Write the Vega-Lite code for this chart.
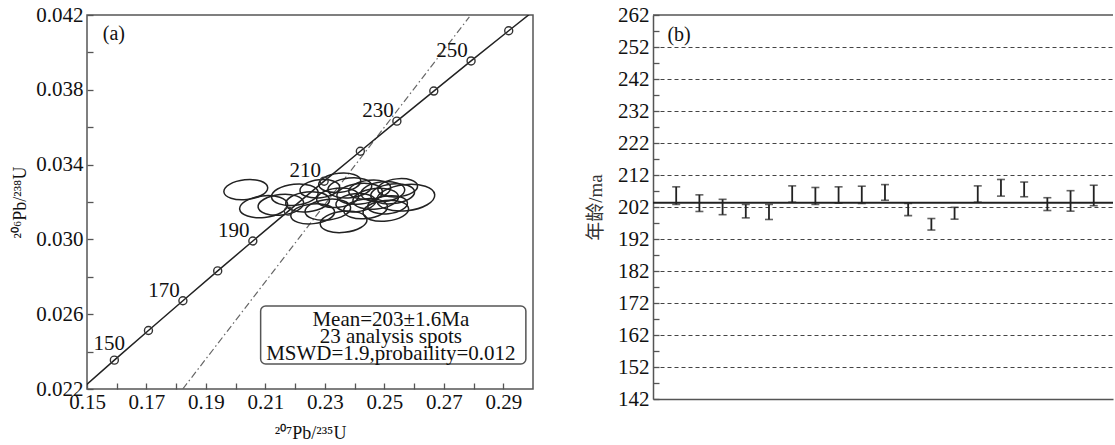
{
  "$schema": "https://vega.github.io/schema/vega-lite/v6.json",
  "padding": {"left": 11, "top": 3, "right": 0, "bottom": 0},
  "background": "white",
  "spacing": 52,
  "datasets": {
    "concordia": [
      {"t": 140, "x": 0.147837, "y": 0.021955},
      {"t": 150, "x": 0.159197, "y": 0.023542},
      {"t": 160, "x": 0.170670, "y": 0.025131},
      {"t": 170, "x": 0.182256, "y": 0.026722},
      {"t": 180, "x": 0.193957, "y": 0.028316},
      {"t": 190, "x": 0.205774, "y": 0.029912},
      {"t": 200, "x": 0.217707, "y": 0.031511},
      {"t": 210, "x": 0.229759, "y": 0.033113},
      {"t": 220, "x": 0.241930, "y": 0.034716},
      {"t": 230, "x": 0.254222, "y": 0.036323},
      {"t": 240, "x": 0.266635, "y": 0.037932},
      {"t": 250, "x": 0.279171, "y": 0.039543},
      {"t": 260, "x": 0.291832, "y": 0.041157},
      {"t": 270, "x": 0.304617, "y": 0.042773}
    ],
    "discordia": [
      {"x": 0.1822, "y": 0.022},
      {"x": 0.2786, "y": 0.0419}
    ],
    "ellipses": [
      {"id": 1, "x": 0.2034, "y": 0.03266, "ex": 0.0074},
      {"id": 2, "x": 0.2094, "y": 0.03175, "ex": 0.0081},
      {"id": 3, "x": 0.2152, "y": 0.03185, "ex": 0.0077},
      {"id": 4, "x": 0.2199, "y": 0.03239, "ex": 0.0079},
      {"id": 5, "x": 0.2242, "y": 0.03201, "ex": 0.0074},
      {"id": 6, "x": 0.2283, "y": 0.03271, "ex": 0.0067},
      {"id": 7, "x": 0.2310, "y": 0.03159, "ex": 0.0077},
      {"id": 8, "x": 0.2343, "y": 0.03223, "ex": 0.0071},
      {"id": 9, "x": 0.2363, "y": 0.03094, "ex": 0.0079},
      {"id": 10, "x": 0.2384, "y": 0.03276, "ex": 0.0074},
      {"id": 11, "x": 0.2404, "y": 0.03196, "ex": 0.0067},
      {"id": 12, "x": 0.2417, "y": 0.03244, "ex": 0.0077},
      {"id": 13, "x": 0.2437, "y": 0.03164, "ex": 0.0074},
      {"id": 14, "x": 0.2451, "y": 0.03266, "ex": 0.0071},
      {"id": 15, "x": 0.2471, "y": 0.03217, "ex": 0.0077},
      {"id": 16, "x": 0.2495, "y": 0.03255, "ex": 0.0074},
      {"id": 17, "x": 0.2511, "y": 0.03185, "ex": 0.0067},
      {"id": 18, "x": 0.2528, "y": 0.03244, "ex": 0.0074},
      {"id": 19, "x": 0.2545, "y": 0.03276, "ex": 0.0067},
      {"id": 20, "x": 0.2572, "y": 0.03223, "ex": 0.0098},
      {"id": 21, "x": 0.2505, "y": 0.03153, "ex": 0.0077},
      {"id": 22, "x": 0.2259, "y": 0.03137, "ex": 0.0074},
      {"id": 23, "x": 0.2350, "y": 0.03303, "ex": 0.0071}
    ],
    "notes": [
      {"x1": 0.2084, "x2": 0.2976, "y1": 0.02644, "y2": 0.02334, "cx": 0.2522, "cy": 0.02569, "text": "Mean=203±1.6Ma\n23 analysis spots\nMSWD=1.9,probaility=0.012"}
    ],
    "panelA": [{"x": 0.1553, "y": 0.04096, "text": "(a)"}],
    "ages": [
      {"spot": 1, "lo": 202.8, "hi": 208.3},
      {"spot": 2, "lo": 200.6, "hi": 205.8},
      {"spot": 3, "lo": 199.6, "hi": 204.4},
      {"spot": 4, "lo": 198.6, "hi": 202.8},
      {"spot": 5, "lo": 198.1, "hi": 202.8},
      {"spot": 6, "lo": 203.5, "hi": 208.6},
      {"spot": 7, "lo": 202.8, "hi": 208.1},
      {"spot": 8, "lo": 203.2, "hi": 208.3},
      {"spot": 9, "lo": 203.1, "hi": 208.5},
      {"spot": 10, "lo": 204.1, "hi": 209.0},
      {"spot": 11, "lo": 199.3, "hi": 203.1},
      {"spot": 12, "lo": 194.8, "hi": 198.4},
      {"spot": 13, "lo": 198.2, "hi": 201.9},
      {"spot": 14, "lo": 203.5, "hi": 208.6},
      {"spot": 15, "lo": 205.4, "hi": 210.6},
      {"spot": 16, "lo": 205.2, "hi": 209.8},
      {"spot": 17, "lo": 200.9, "hi": 204.9},
      {"spot": 18, "lo": 200.7, "hi": 207.1},
      {"spot": 19, "lo": 202.4, "hi": 208.8}
    ],
    "mean": [{"age": 203.3}],
    "panelB": [{"spot": 0.62, "age": 255.7, "text": "(b)"}]
  },
  "hconcat": [
    {
      "width": 446,
      "height": 374,
      "layer": [
        {
          "data": {"name": "notes"},
          "mark": {"type": "rect", "fill": "white", "stroke": "#555", "strokeWidth": 1.5, "cornerRadius": 5},
          "encoding": {
            "x": {"field": "x1", "type": "quantitative",
              "scale": {"domain": [0.15, 0.30], "nice": false, "zero": false},
              "axis": {
                "title": "²⁰⁷Pb/²³⁵U",
                "titleFontSize": 18,
                "values": [0.15, 0.16, 0.17, 0.18, 0.19, 0.20, 0.21, 0.22, 0.23, 0.24, 0.25, 0.26, 0.27, 0.28, 0.29],
                "tickCount": 100,
                "labelExpr": "indexof(['0.15','0.17','0.19','0.21','0.23','0.25','0.27','0.29'], format(datum.value, '.2f')) >= 0 ? format(datum.value, '.2f') : ''",
                "tickSize": -6, "labelPadding": 8, "titlePadding": 12, "domain": false
              }
            },
            "x2": {"field": "x2"},
            "y": {"field": "y1", "type": "quantitative",
              "scale": {"domain": [0.022, 0.042], "nice": false, "zero": false},
              "axis": {
                "title": "²⁰⁶Pb/²³⁸U",
                "titleFontSize": 18,
                "values": [0.022, 0.024, 0.026, 0.028, 0.030, 0.032, 0.034, 0.036, 0.038, 0.040, 0.042],
                "tickCount": 100,
                "labelExpr": "indexof(['0.022','0.026','0.030','0.034','0.038','0.042'], format(datum.value, '.3f')) >= 0 ? format(datum.value, '.3f') : ''",
                "tickSize": -6, "labelPadding": 10, "titlePadding": 6, "domain": false
              }
            },
            "y2": {"field": "y2"}
          }
        },
        {
          "data": {"name": "notes"},
          "mark": {"type": "text", "font": "Liberation Serif", "fontSize": 21, "align": "center", "baseline": "middle", "lineBreak": "\n", "lineHeight": 17, "color": "#111"},
          "encoding": {
            "x": {"field": "cx", "type": "quantitative"},
            "y": {"field": "cy", "type": "quantitative"},
            "text": {"field": "text"}
          }
        },
        {
          "data": {"name": "discordia"},
          "mark": {"type": "line", "color": "#666", "strokeWidth": 1.2, "strokeDash": [7, 3, 1.5, 3], "clip": true},
          "encoding": {
            "x": {"field": "x", "type": "quantitative"},
            "y": {"field": "y", "type": "quantitative"}
          }
        },
        {
          "data": {"name": "ellipses"},
          "mark": {"type": "point", "shape": "M-1,0A1,0.45,0,1,1,1,0A1,0.45,0,1,1,-1,0Z", "filled": false, "stroke": "#222", "strokeWidth": 1.5, "angle": 354, "opacity": 1},
          "encoding": {
            "x": {"field": "x", "type": "quantitative"},
            "y": {"field": "y", "type": "quantitative"},
            "size": {"field": "ex", "type": "quantitative", "legend": null,
              "scale": {"type": "pow", "exponent": 2, "domain": [0, 0.01], "range": [0, 3535]}}
          }
        },
        {
          "data": {"name": "concordia"},
          "mark": {"type": "line", "color": "#222", "strokeWidth": 1.5, "clip": true},
          "encoding": {
            "x": {"field": "x", "type": "quantitative"},
            "y": {"field": "y", "type": "quantitative"},
            "order": {"field": "t", "type": "quantitative"}
          }
        },
        {
          "data": {"name": "concordia"},
          "transform": [{"filter": "datum.t >= 150 && datum.t <= 260"}],
          "mark": {"type": "point", "shape": "circle", "filled": false, "stroke": "#333", "strokeWidth": 1.4, "size": 64, "opacity": 1},
          "encoding": {
            "x": {"field": "x", "type": "quantitative"},
            "y": {"field": "y", "type": "quantitative"}
          }
        },
        {
          "data": {"name": "concordia"},
          "transform": [{"filter": "datum.t >= 170 && datum.t <= 250 && datum.t % 20 == 10"}],
          "mark": {"type": "text", "font": "Liberation Serif", "fontSize": 21, "align": "center", "baseline": "middle", "dx": -19, "dy": -10, "color": "#111"},
          "encoding": {
            "x": {"field": "x", "type": "quantitative"},
            "y": {"field": "y", "type": "quantitative"},
            "text": {"field": "t", "type": "quantitative"}
          }
        },
        {
          "data": {"name": "concordia"},
          "transform": [{"filter": "datum.t == 150"}],
          "mark": {"type": "text", "font": "Liberation Serif", "fontSize": 21, "align": "center", "baseline": "middle", "dx": -5, "dy": -16, "color": "#111"},
          "encoding": {
            "x": {"field": "x", "type": "quantitative"},
            "y": {"field": "y", "type": "quantitative"},
            "text": {"field": "t", "type": "quantitative"}
          }
        },
        {
          "data": {"name": "panelA"},
          "mark": {"type": "text", "font": "Liberation Serif", "fontSize": 20, "align": "left", "baseline": "middle", "color": "#111"},
          "encoding": {
            "x": {"field": "x", "type": "quantitative"},
            "y": {"field": "y", "type": "quantitative"},
            "text": {"field": "text"}
          }
        }
      ]
    },
    {
      "width": 460,
      "height": 384,
      "view": {"stroke": null},
      "layer": [
        {
          "data": {"name": "mean"},
          "mark": {"type": "rule", "color": "#222", "strokeWidth": 2},
          "encoding": {
            "y": {"field": "age", "type": "quantitative",
              "scale": {"domain": [142, 262], "nice": false, "zero": false},
              "axis": {
                "title": "年龄/ma",
                "titleFont": "Liberation Serif, Noto Sans CJK SC",
                "titleFontSize": 19,
                "titleColor": "#333",
                "titlePadding": 12,
                "values": [142, 147, 152, 157, 162, 167, 172, 177, 182, 187, 192, 197, 202, 207, 212, 217, 222, 227, 232, 237, 242, 247, 252, 257, 262],
                "tickCount": 100,
                "labelExpr": "(datum.value - 142) % 10 == 0 ? datum.label : ''",
                "tickSize": -6, "labelPadding": 10,
                "grid": true,
                "gridColor": "#444",
                "gridWidth": 1.2,
                "gridDash": [4, 3],
                "gridOpacity": {"condition": {"test": "(datum.value - 142) % 10 == 0 && datum.value > 142 && datum.value < 262", "value": 1}, "value": 0},
                "domain": true
              }
            }
          }
        },
        {
          "data": {"values": [{}]},
          "mark": {"type": "rule", "color": "#555", "strokeWidth": 1.5},
          "encoding": {
            "y": {"datum": 262, "type": "quantitative"}
          }
        },
        {
          "data": {"name": "ages"},
          "mark": {"type": "rule", "color": "#222", "strokeWidth": 1.8},
          "encoding": {
            "x": {"field": "spot", "type": "quantitative",
              "scale": {"domain": [0, 19.83], "nice": false, "zero": false},
              "axis": {"title": null, "labels": false, "ticks": false, "domain": true, "grid": false}
            },
            "y": {"field": "lo", "type": "quantitative"},
            "y2": {"field": "hi"}
          }
        },
        {
          "data": {"name": "ages"},
          "mark": {"type": "tick", "orient": "horizontal", "color": "#222", "size": 8, "thickness": 1.6},
          "encoding": {
            "x": {"field": "spot", "type": "quantitative"},
            "y": {"field": "lo", "type": "quantitative"}
          }
        },
        {
          "data": {"name": "ages"},
          "mark": {"type": "tick", "orient": "horizontal", "color": "#222", "size": 8, "thickness": 1.6},
          "encoding": {
            "x": {"field": "spot", "type": "quantitative"},
            "y": {"field": "hi", "type": "quantitative"}
          }
        },
        {
          "data": {"name": "panelB"},
          "mark": {"type": "text", "font": "Liberation Serif", "fontSize": 20, "align": "left", "baseline": "middle", "color": "#111"},
          "encoding": {
            "x": {"field": "spot", "type": "quantitative"},
            "y": {"field": "age", "type": "quantitative"},
            "text": {"field": "text"}
          }
        }
      ]
    }
  ],
  "config": {
    "font": "Liberation Serif",
    "view": {"stroke": "#555", "strokeWidth": 1.5},
    "axis": {
      "labelFont": "Liberation Serif",
      "labelFontSize": 21,
      "labelColor": "#111",
      "titleFont": "Liberation Serif",
      "titleFontSize": 21,
      "titleColor": "#111",
      "titleFontWeight": "normal",
      "domainColor": "#555",
      "domainWidth": 1.5,
      "tickColor": "#555",
      "tickWidth": 1.3,
      "labelFlush": false,
      "labelOverlap": false,
      "grid": false
    }
  }
}
